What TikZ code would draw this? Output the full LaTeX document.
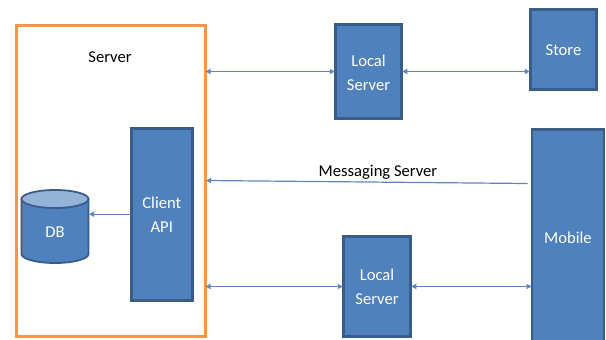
\documentclass[tikz,border=0pt]{standalone}
\usepackage{fontspec}
\setmainfont{Carlito}
\usetikzlibrary{arrows.meta}
\definecolor{boxfill}{HTML}{4F81BD}
\definecolor{boxline}{HTML}{385D8A}
\definecolor{linkline}{HTML}{5B87C0}
\definecolor{topfill}{HTML}{95B3D7}
\definecolor{frameline}{HTML}{F79646}
\newcommand\lowered[2][0.5pt]{\raisebox{-#1}[0.64em][0em]{#2}}
\tikzset{
  every node/.style={font=\fontsize{16.6}{24}\selectfont, outer sep=0pt, inner sep=0pt, align=center},
  bluebox/.style={draw=boxline, fill=boxfill, line width=2.8pt, text=white},
  link/.style={draw=linkline, line width=1.2pt, {Latex[length=5.5pt,width=6pt]}-{Latex[length=5.5pt,width=6pt]}},
  oneway/.style={draw=linkline, line width=1.2pt, -{Latex[length=5.5pt,width=6pt]}},
  dbedge/.style={draw=boxline, line width=1.8pt},
}
\begin{document}
\begin{tikzpicture}[x=1pt,y=-1pt]
\useasboundingbox (0,0) rectangle (606,340);
\clip (0,0) rectangle (606,340);
\node[draw=frameline, line width=3pt, minimum width=189pt, minimum height=311pt] (srv) at (110.5,180.5) {};
\node (srvlabel) at (110,57) {Server};
\node[bluebox, minimum width=61pt, minimum height=172pt] (api) at (161.8,214.2) {\lowered{Client}\\\lowered{API}};
\fill[boxfill] (21.5,199) -- (21.5,254) arc[start angle=180, end angle=0, x radius=33.5, y radius=9] -- (88.5,199) -- cycle;
\draw[dbedge] (21.5,199) -- (21.5,254) arc[start angle=180, end angle=0, x radius=33.5, y radius=9] -- (88.5,199);
\draw[dbedge, fill=topfill] (55,199) ellipse[x radius=33.5, y radius=9];
\node[minimum width=67pt, minimum height=74pt] (db) at (55,226.5) {};
\node[text=white] (dblabel) at (55,232) {DB};
\node[bluebox, minimum width=66.5pt, minimum height=94.5pt] (ls1) at (368.5,71.5) {\lowered[1.5pt]{Local}\\\lowered[1.5pt]{Server}};
\node[bluebox, minimum width=66.5pt, minimum height=80.5pt] (store) at (563.5,49.5) {\lowered{Store}};
\node[bluebox, minimum width=72pt, minimum height=216pt] (mobile) at (568,237.5) {\lowered{Mobile}};
\node[bluebox, minimum width=67.5pt, minimum height=100.5pt] (ls2) at (377,286.5) {\lowered{Local}\\\lowered{Server}};
\node (msglabel) at (378,172) {Messaging Server};
\coordinate (msgstart) at (527.5,183.5);
\coordinate (msgend) at (205.5,180.5);
\draw[link] (srv.east |- ls1.west) -- (ls1.west);
\draw[link] (ls1.east) -- (store.west |- ls1.east);
\draw[link] (srv.east |- ls2.west) -- (ls2.west);
\draw[link] (ls2.east) -- (mobile.west |- ls2.east);
\draw[oneway] (msgstart) -- (msgend);
\draw[oneway] (api.west) -- (db.east |- api.west);
\end{tikzpicture}
\end{document}
